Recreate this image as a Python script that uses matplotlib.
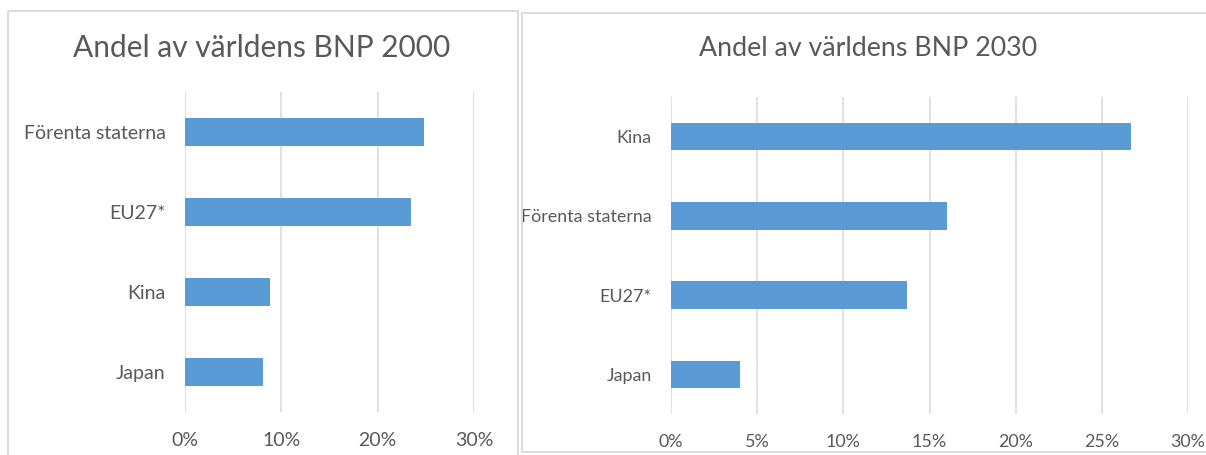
import matplotlib
matplotlib.use("Agg")
import matplotlib.pyplot as plt
from matplotlib.patches import Rectangle
from matplotlib.ticker import FuncFormatter, MultipleLocator

# Data
cats_2000 = ["Förenta staterna", "EU27*", "Kina", "Japan"]
vals_2000 = [24.8, 23.5, 8.85, 8.1]
cats_2030 = ["Kina", "Förenta staterna", "EU27*", "Japan"]
vals_2030 = [26.7, 16.0, 13.7, 4.0]
title_2000 = "Andel av världens BNP 2000"
title_2030 = "Andel av världens BNP 2030"

BAR = "#5B9BD5"
GRID = "#D9D9D9"
TXT = "#595959"
W, H = 1206, 455
FAM = ["Lato", "DejaVu Sans"]

fig = plt.figure(figsize=(W / 100, H / 100), dpi=100)
fig.patch.set_facecolor("white")

def fx(px):
    return px / W

def fy(py):
    return 1 - py / H

# panel borders
fig.add_artist(Rectangle((fx(8), fy(460)), fx(518 - 8), (460 - 11) / H,
                         transform=fig.transFigure, fill=False, edgecolor=GRID, lw=1.3))
fig.add_artist(Rectangle((fx(522), fy(452)), fx(1215 - 522), (452 - 13) / H,
                         transform=fig.transFigure, fill=False, edgecolor=GRID, lw=1.3))

def draw(ax, cats, vals, step, fs):
    y = list(range(len(cats)))
    ax.barh(y, vals, height=0.35, color=BAR, zorder=3)
    ax.set_ylim(len(cats) - 0.5, -0.5)
    ax.set_xlim(0, 30)
    ax.xaxis.set_major_locator(MultipleLocator(step))
    ax.xaxis.set_major_formatter(FuncFormatter(lambda v, p: f"{v:.0f}%"))
    ax.set_yticks(y)
    ax.set_yticklabels(cats)
    ax.grid(axis="x", color=GRID, lw=1.1, zorder=0)
    for s in ax.spines.values():
        s.set_visible(False)
    ax.tick_params(axis="both", length=0, colors=TXT, labelsize=fs)
    ax.tick_params(axis="x", pad=14.5)
    ax.tick_params(axis="y", pad=14)
    for t in ax.get_xticklabels() + ax.get_yticklabels():
        t.set_family(FAM)
        t.set_color(TXT)
    ax.set_facecolor("none")

ax1 = fig.add_axes([fx(185), fy(412), fx(474 - 185), (412 - 92) / H])
draw(ax1, cats_2000, vals_2000, 10, 14)
fig.text(fx(262), fy(48), title_2000, ha="center", va="center",
         fontsize=21.5, color=TXT, family=FAM)

ax2 = fig.add_axes([fx(671), fy(414), fx(1188 - 671), (414 - 97) / H])
draw(ax2, cats_2030, vals_2030, 5, 12.9)
fig.text(fx(868), fy(48), title_2030, ha="center", va="center",
         fontsize=19.3, color=TXT, family=FAM)

fig.savefig("out.png", dpi=100, facecolor="white")
